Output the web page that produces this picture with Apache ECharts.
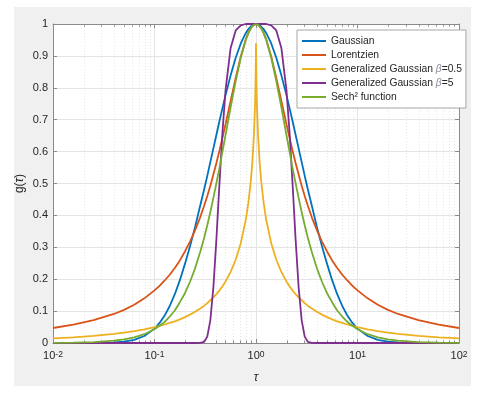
<!DOCTYPE html>
<html>
<head>
<meta charset="utf-8">
<script src="https://cdn.jsdelivr.net/npm/echarts@6/dist/echarts.min.js"></script>
<style>
  html, body { margin: 0; padding: 0; background: #ffffff; }
  #figbg { position: absolute; left: 14px; top: 7px; width: 457px; height: 379px; background: #f0f0f0; }
  #chart { position: absolute; left: 0; top: 0; width: 484px; height: 400px; }
</style>
</head>
<body>
<div id="figbg"></div>
<div id="chart"></div>
<script>
// log10(tau) sample positions
const logTau = [-2, -1.8, -1.6, -1.4, -1.3, -1.2, -1.1, -1, -0.95, -0.9, -0.85, -0.8, -0.75, -0.7, -0.65, -0.6, -0.55, -0.51, -0.48, -0.45, -0.42, -0.39, -0.36, -0.33, -0.3, -0.25, -0.2, -0.15, -0.1, -0.075, -0.05, -0.035, -0.02, -0.01, -0.005, -0.002,
  0,
  0.002, 0.005, 0.01, 0.02, 0.035, 0.05, 0.075, 0.1, 0.15, 0.2, 0.25, 0.3, 0.33, 0.36, 0.39, 0.42, 0.45, 0.48, 0.51, 0.55, 0.6, 0.65, 0.7, 0.75, 0.8, 0.85, 0.9, 0.95, 1, 1.1, 1.2, 1.3, 1.4, 1.6, 1.8, 2];

const gaussian = [0, 0.0001, 0.0004, 0.002, 0.0045, 0.01, 0.022, 0.045, 0.063, 0.086, 0.116, 0.153, 0.197, 0.248, 0.303, 0.364, 0.43, 0.483, 0.524, 0.567, 0.61, 0.653, 0.696, 0.737, 0.777, 0.839, 0.894, 0.939, 0.972, 0.984, 0.993, 0.997, 0.999, 1, 1, 1,
  1,
  1, 1, 1, 0.999, 0.997, 0.993, 0.984, 0.972, 0.939, 0.894, 0.839, 0.777, 0.737, 0.696, 0.653, 0.61, 0.567, 0.524, 0.483, 0.43, 0.364, 0.303, 0.248, 0.197, 0.153, 0.116, 0.086, 0.063, 0.045, 0.022, 0.01, 0.0045, 0.002, 0.0004, 0.0001, 0];

const lorentz = [0.047, 0.0573, 0.0715, 0.091, 0.104, 0.12, 0.14, 0.165, 0.179, 0.196, 0.214, 0.235, 0.259, 0.287, 0.318, 0.354, 0.394, 0.431, 0.461, 0.493, 0.528, 0.564, 0.603, 0.644, 0.686, 0.759, 0.831, 0.898, 0.952, 0.972, 0.987, 0.994, 0.998, 0.9995, 1, 1,
  1,
  1, 1, 0.9995, 0.998, 0.994, 0.987, 0.972, 0.952, 0.898, 0.831, 0.759, 0.686, 0.644, 0.603, 0.564, 0.528, 0.493, 0.461, 0.431, 0.394, 0.354, 0.318, 0.287, 0.259, 0.235, 0.214, 0.196, 0.179, 0.165, 0.14, 0.12, 0.104, 0.091, 0.0715, 0.0573, 0.047];

const genGauss05 = [0.0144, 0.0178, 0.0224, 0.0287, 0.0327, 0.037, 0.043, 0.05, 0.0536, 0.058, 0.0628, 0.068, 0.0743, 0.081, 0.089, 0.098, 0.108, 0.117, 0.125, 0.134, 0.143, 0.153, 0.165, 0.178, 0.193, 0.223, 0.261, 0.313, 0.387, 0.44, 0.511, 0.571, 0.654, 0.741, 0.809, 0.874,
  0.94,
  0.874, 0.809, 0.741, 0.654, 0.571, 0.511, 0.44, 0.387, 0.313, 0.261, 0.223, 0.193, 0.178, 0.165, 0.153, 0.143, 0.134, 0.125, 0.117, 0.108, 0.098, 0.089, 0.081, 0.0743, 0.068, 0.0628, 0.058, 0.0536, 0.05, 0.043, 0.037, 0.0327, 0.0287, 0.0224, 0.0178, 0.0144];

const genGauss5 = [0, 0, 0, 0, 0, 0, 0, 0, 0, 0, 0, 0, 0, 0, 0, 0, 0.0001, 0.0037, 0.02, 0.071, 0.174, 0.326, 0.5, 0.663, 0.793, 0.925, 0.98, 0.996, 1, 1, 1, 1, 1, 1, 1, 1,
  1,
  1, 1, 1, 1, 1, 1, 1, 1, 0.996, 0.98, 0.925, 0.793, 0.663, 0.5, 0.326, 0.174, 0.071, 0.02, 0.0037, 0.0001, 0, 0, 0, 0, 0, 0, 0, 0, 0, 0, 0, 0, 0, 0, 0, 0];

const sech2 = [0.0005, 0.0012, 0.0029, 0.0072, 0.0112, 0.0176, 0.0275, 0.043, 0.054, 0.066, 0.083, 0.102, 0.128, 0.156, 0.192, 0.234, 0.285, 0.331, 0.369, 0.41, 0.455, 0.501, 0.549, 0.601, 0.652, 0.739, 0.821, 0.894, 0.951, 0.972, 0.987, 0.994, 0.998, 0.9995, 1, 1,
  1,
  1, 1, 0.9995, 0.998, 0.994, 0.987, 0.972, 0.951, 0.894, 0.821, 0.739, 0.652, 0.601, 0.549, 0.501, 0.455, 0.41, 0.369, 0.331, 0.285, 0.234, 0.192, 0.156, 0.128, 0.102, 0.083, 0.066, 0.054, 0.043, 0.0275, 0.0176, 0.0112, 0.0072, 0.0029, 0.0012, 0.0005];

const seriesNames = ['Gaussian', 'Lorentzien', 'Generalized Gaussian β=0.5', 'Generalized Gaussian β=5', 'Sech² function'];
const seriesColors = ['#0072BD', '#D95319', '#EDB120', '#7E2F8E', '#77AC30'];
const seriesValues = [gaussian, lorentz, genGauss05, genGauss5, sech2];

const decadeExponents = [-2, -1, 0, 1];
const minorMultipliers = [2, 3, 4, 5, 6, 7, 8, 9];
const yTicks = [0, 0.1, 0.2, 0.3, 0.4, 0.5, 0.6, 0.7, 0.8, 0.9, 1];

const minorTau = [];
decadeExponents.forEach(e => minorMultipliers.forEach(m => minorTau.push([m * Math.pow(10, e), 0])));

const FONT = '"Liberation Sans", Arial, Helvetica, sans-serif';
const TXT = '#262626';
const AX = '#8a8a8a';
const GRIDC = '#e4e4e4';

const chart = echarts.init(document.getElementById('chart'), null, { renderer: 'canvas' });

const lineSeries = seriesValues.map((vals, i) => ({
  name: seriesNames[i],
  type: 'line',
  data: logTau.map((u, j) => [Math.pow(10, u), vals[j]]),
  showSymbol: false,
  symbol: 'none',
  smooth: false,
  clip: true,
  lineStyle: { color: seriesColors[i], width: 1.8 },
  itemStyle: { color: seriesColors[i] },
  z: 3 + i,
  silent: true
}));

const minorSeries = {
  type: 'custom',
  silent: true,
  z: 1,
  data: minorTau,
  encode: { x: 0, y: 1 },
  renderItem: (params, api) => {
    const tau = api.value(0);
    const p0 = api.coord([tau, 0]);
    const p1 = api.coord([tau, 1]);
    const x = Math.round(p0[0]) + 0.5;
    return {
      type: 'group',
      children: [
        { type: 'line', shape: { x1: x, y1: p0[1], x2: x, y2: p1[1] }, style: { stroke: '#e6e6e6', lineWidth: 1, lineDash: [1, 2] } },
        { type: 'line', shape: { x1: x, y1: p0[1], x2: x, y2: p0[1] - 2.5 }, style: { stroke: AX, lineWidth: 1 } },
        { type: 'line', shape: { x1: x, y1: p1[1], x2: x, y2: p1[1] + 2.5 }, style: { stroke: AX, lineWidth: 1 } }
      ]
    };
  }
};

const option = {
  backgroundColor: 'transparent',
  animation: false,
  textStyle: { fontFamily: FONT },
  grid: { left: 53, top: 24, width: 406, height: 319, show: true, backgroundColor: '#ffffff', borderWidth: 0, containLabel: false },
  legend: {
    data: seriesNames,
    orient: 'vertical',
    left: 297,
    top: 30,
    icon: 'rect',
    itemWidth: 24,
    itemHeight: 2,
    itemGap: 2,
    padding: [5, 4, 5, 5],
    backgroundColor: '#ffffff',
    borderColor: '#a6a6a6',
    borderWidth: 1,
    borderRadius: 0,
    selectedMode: false,
    formatter: name => name.replace('β', '{it|β}'),
    textStyle: {
      fontFamily: FONT, fontSize: 10.3, color: TXT, lineHeight: 12,
      rich: { it: { fontFamily: FONT, fontSize: 10.3, fontStyle: 'italic', color: '#8a8aa0', lineHeight: 12 } }
    }
  },
  xAxis: [
    {
      type: 'log', logBase: 10, min: 0.01, max: 100, position: 'bottom',
      name: 'τ', nameLocation: 'middle', nameGap: 29, nameMoveOverlap: false,
      nameTextStyle: { fontFamily: FONT, fontSize: 12, fontStyle: 'italic', color: TXT },
      axisLine: { show: true, onZero: false, lineStyle: { color: AX, width: 1 } },
      axisTick: { show: true, inside: true, length: 4, lineStyle: { color: AX } },
      splitLine: { show: true, lineStyle: { color: GRIDC, width: 1 } },
      axisLabel: {
        margin: 7,
        formatter: v => '{b|10}{s|' + Math.round(Math.log10(v)) + '}',
        rich: {
          b: { fontFamily: FONT, fontSize: 11, color: TXT, lineHeight: 11, verticalAlign: 'bottom' },
          s: { fontFamily: FONT, fontSize: 8.5, color: TXT, lineHeight: 9, verticalAlign: 'top', padding: [0, 0, 6, 0] }
        }
      }
    },
    {
      type: 'log', logBase: 10, min: 0.01, max: 100, position: 'top',
      axisLine: { show: true, onZero: false, lineStyle: { color: AX, width: 1 } },
      axisTick: { show: true, inside: true, length: 4, lineStyle: { color: AX } },
      axisLabel: { show: false },
      splitLine: { show: false }
    }
  ],
  yAxis: [
    {
      type: 'value', min: 0, max: 1, interval: 0.1, position: 'left',
      name: 'g({it|τ})', nameLocation: 'middle', nameGap: 27, nameMoveOverlap: false,
      nameTextStyle: { fontFamily: FONT, fontSize: 12, color: TXT, rich: { it: { fontFamily: FONT, fontSize: 12, fontStyle: 'italic', color: TXT } } },
      axisLine: { show: true, onZero: false, lineStyle: { color: AX, width: 1 } },
      axisTick: { show: true, inside: true, length: 4, lineStyle: { color: AX } },
      splitLine: { show: true, lineStyle: { color: GRIDC, width: 1 } },
      axisLabel: {
        margin: 5, fontFamily: FONT, fontSize: 11, color: TXT,
        formatter: v => {
          const t = yTicks.find(k => Math.abs(k - v) < 1e-9);
          if (t === 0) return '0';
          if (t === 1) return '1';
          return t.toFixed(1);
        }
      }
    },
    {
      type: 'value', min: 0, max: 1, interval: 0.1, position: 'right',
      axisLine: { show: true, onZero: false, lineStyle: { color: AX, width: 1 } },
      axisTick: { show: true, inside: true, length: 4, lineStyle: { color: AX } },
      axisLabel: { show: false },
      splitLine: { show: false }
    }
  ],
  series: [minorSeries].concat(lineSeries)
};

chart.setOption(option);
</script>
</body>
</html>
